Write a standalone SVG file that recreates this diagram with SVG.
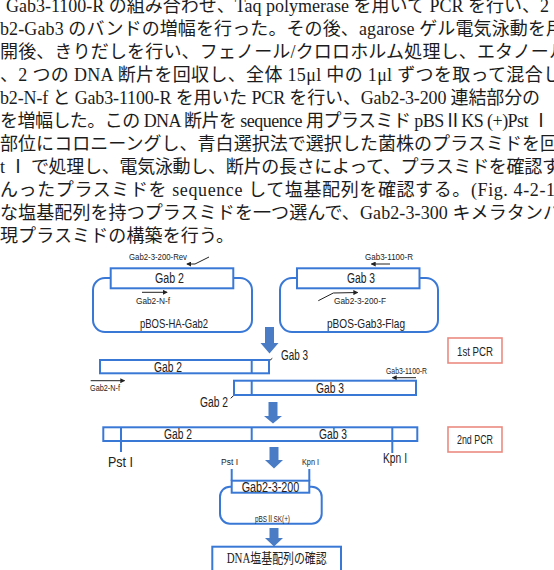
<svg xmlns="http://www.w3.org/2000/svg" width="554" height="570" viewBox="0 0 554 570">
<style>
.body{font-family:"Liberation Serif","Noto Sans CJK JP",serif;font-size:18px;fill:#1c1c1c}
.box{fill:#fff;stroke:#3a78d6;stroke-width:2}
.loop{fill:none;stroke:#3a78d6;stroke-width:2}
.pcr{fill:#fff;stroke:#ea8b80;stroke-width:1.6}
.lbl{font-family:"Liberation Sans","Noto Sans CJK JP",sans-serif;font-size:14px;fill:#222;dominant-baseline:central}
.md{font-size:13px}
.sm{font-size:8.5px}
.dna{font-family:"Liberation Serif","Noto Sans CJK JP",serif;font-size:14px;fill:#222;dominant-baseline:central}
.thin{stroke:#222;stroke-width:1;fill:none}
.big{fill:#4a7cc5}
</style>
<defs>
<marker id="ah" viewBox="0 0 6 6" refX="5" refY="3" markerWidth="5" markerHeight="5" orient="auto" markerUnits="userSpaceOnUse">
<path d="M0,0 L6,3 L0,6 z" fill="#222"/>
</marker>
</defs>

<g id="body-text" class="body">
<text x="6" y="12" textLength="543" lengthAdjust="spacing">Gab3-1100-R の組み合わせ、Taq polymerase を用いて PCR を行い、2</text>
<text x="0" y="35" textLength="564" lengthAdjust="spacing">b2-Gab3 のバンドの増幅を行った。その後、agarose ゲル電気泳動を用</text>
<text x="0" y="58" textLength="567" lengthAdjust="spacing">開後、きりだしを行い、フェノール/クロロホルム処理し、エタノール</text>
<text x="0" y="81" textLength="561" lengthAdjust="spacing">、2 つの DNA 断片を回収し、全体 15μl 中の 1μl ずつを取って混合し</text>
<text x="0" y="104" textLength="540" lengthAdjust="spacing">b2-N-f と Gab3-1100-R を用いた PCR を行い、Gab2-3-200 連結部分の</text>
<text x="0" y="127" textLength="550" lengthAdjust="spacing">を増幅した。この DNA 断片を sequence 用プラスミド pBSⅡKS (+)Pst Ⅰ</text>
<text x="0" y="150" textLength="558" lengthAdjust="spacing">部位にコロニーングし、青白選択法で選択した菌株のプラスミドを回</text>
<text x="0" y="173" textLength="560" lengthAdjust="spacing">t Ⅰ で処理し、電気泳動し、断片の長さによって、プラスミドを確認す</text>
<text x="0" y="196" textLength="555" lengthAdjust="spacing">んったプラスミドを sequence して塩基配列を確認する。(Fig. 4-2-1</text>
<text x="0" y="219" textLength="561" lengthAdjust="spacing">な塩基配列を持つプラスミドを一つ選んで、Gab2-3-300 キメラタンパ</text>
<text x="0" y="242" textLength="234" lengthAdjust="spacing">現プラスミドの構築を行う。</text>
</g>

<g id="connectors">
<polygon class="big" points="265,327 274,327 274,343 278.5,343 269.5,353.5 260.5,343 265,343"/>
<polygon class="big" points="268.5,402 277.5,402 277.5,416 282,416 273,423.5 264,416 268.5,416"/>
<polygon class="big" points="269.5,447 278.5,447 278.5,460 283,460 274,468.5 265,460 269.5,460"/>
<polygon class="big" points="269.5,528 278.5,528 278.5,538 283,538 274,546.5 265,538 269.5,538"/>
<polyline class="thin" points="209,257 195,264 187,264" marker-end="url(#ah)"/>
<line class="thin" x1="142" y1="292.3" x2="167" y2="292.3" marker-end="url(#ah)"/>
<line class="thin" x1="390" y1="264" x2="371.5" y2="264" marker-end="url(#ah)"/>
<polyline class="thin" points="318.3,300.7 333.3,293 357.5,292.5" marker-end="url(#ah)"/>
<line class="thin" x1="262.3" y1="366.7" x2="272.3" y2="358.3"/>
<line class="thin" x1="230.7" y1="398.3" x2="240.3" y2="389.3"/>
<line class="thin" x1="90.7" y1="380.7" x2="124.5" y2="380.7" marker-end="url(#ah)"/>
<line class="thin" x1="416" y1="377.7" x2="392.5" y2="377.7" marker-end="url(#ah)"/>
</g>

<g id="pBOS-HA-Gab2">
<rect class="loop" x="93" y="278" width="159" height="54" rx="12"/>
<rect class="box" x="110.7" y="268.3" width="122.6" height="20"/>
<text class="lbl" x="155" y="278" textLength="29" lengthAdjust="spacingAndGlyphs">Gab 2</text>
<text class="lbl sm" x="129" y="257" textLength="58" lengthAdjust="spacingAndGlyphs">Gab2-3-200-Rev</text>
<text class="lbl sm" x="136" y="301" textLength="34" lengthAdjust="spacingAndGlyphs">Gab2-N-f</text>
<text class="lbl md" x="140" y="323" textLength="68" lengthAdjust="spacingAndGlyphs">pBOS-HA-Gab2</text>
</g>

<g id="pBOS-Gab3-Flag">
<rect class="loop" x="280" y="278" width="158" height="54" rx="12"/>
<rect class="box" x="297" y="268.3" width="122.5" height="20"/>
<text class="lbl" x="347" y="278" textLength="28" lengthAdjust="spacingAndGlyphs">Gab 3</text>
<text class="lbl sm" x="365" y="257" textLength="48" lengthAdjust="spacingAndGlyphs">Gab3-1100-R</text>
<text class="lbl sm" x="334" y="301" textLength="52" lengthAdjust="spacingAndGlyphs">Gab2-3-200-F</text>
<text class="lbl md" x="327" y="323" textLength="78" lengthAdjust="spacingAndGlyphs">pBOS-Gab3-Flag</text>
</g>

<g id="pcr1-gab2">
<rect class="box" x="100" y="360" width="169" height="13.3"/>
<line class="loop" x1="251.7" y1="360" x2="251.7" y2="373.3"/>
<text class="lbl" x="154" y="366.7" textLength="28" lengthAdjust="spacingAndGlyphs">Gab 2</text>
<text class="lbl" x="281" y="355" textLength="27" lengthAdjust="spacingAndGlyphs">Gab 3</text>
<text class="lbl sm" x="90" y="388.3" textLength="30" lengthAdjust="spacingAndGlyphs">Gab2-N-f</text>
</g>

<g id="pcr1-gab3">
<rect class="box" x="234" y="380.7" width="182" height="14.3"/>
<line class="loop" x1="251.7" y1="380.7" x2="251.7" y2="395"/>
<text class="lbl" x="316" y="388" textLength="28" lengthAdjust="spacingAndGlyphs">Gab 3</text>
<text class="lbl" x="200" y="402" textLength="28" lengthAdjust="spacingAndGlyphs">Gab 2</text>
<text class="lbl sm" x="386" y="371" textLength="41" lengthAdjust="spacingAndGlyphs">Gab3-1100-R</text>
</g>

<g id="label-1st-pcr">
<rect class="pcr" x="448" y="338" width="54" height="25"/>
<text class="lbl md" x="457" y="351" textLength="36" lengthAdjust="spacingAndGlyphs">1st PCR</text>
</g>

<g id="pcr2-product">
<rect class="box" x="103.3" y="427.3" width="314" height="13.7"/>
<line class="loop" x1="121" y1="427.3" x2="121" y2="452"/>
<line class="loop" x1="251.7" y1="427.3" x2="251.7" y2="441"/>
<line class="loop" x1="392.3" y1="427.3" x2="392.3" y2="453"/>
<text class="lbl" x="164" y="433.5" textLength="28" lengthAdjust="spacingAndGlyphs">Gab 2</text>
<text class="lbl" x="319" y="433.5" textLength="28" lengthAdjust="spacingAndGlyphs">Gab 3</text>
<text class="lbl" x="108" y="462" textLength="25" lengthAdjust="spacingAndGlyphs">Pst I</text>
<text class="lbl" x="383" y="457.5" textLength="24" lengthAdjust="spacingAndGlyphs">Kpn I</text>
</g>

<g id="label-2nd-pcr">
<rect class="pcr" x="448" y="427" width="54" height="25"/>
<text class="lbl md" x="457" y="439.5" textLength="36" lengthAdjust="spacingAndGlyphs">2nd PCR</text>
</g>

<g id="pBSIISK">
<rect class="loop" x="220" y="486.7" width="101.7" height="37" rx="10"/>
<rect class="box" x="231.7" y="480.7" width="77.6" height="12"/>
<line class="loop" x1="231.7" y1="469" x2="231.7" y2="481"/>
<line class="loop" x1="309.3" y1="469" x2="309.3" y2="481"/>
<text class="lbl" x="241.7" y="487" textLength="57.6" lengthAdjust="spacingAndGlyphs">Gab2-3-200</text>
<text class="lbl sm" x="221" y="462" textLength="17" lengthAdjust="spacingAndGlyphs">Pst I</text>
<text class="lbl sm" x="302" y="462" textLength="17" lengthAdjust="spacingAndGlyphs">Kpn I</text>
<text class="lbl sm" x="255" y="519" textLength="35" lengthAdjust="spacingAndGlyphs">pBSⅡSK(+)</text>
</g>

<g id="dna-confirm">
<rect class="box" x="212.3" y="546.7" width="128.7" height="30"/>
<text class="dna" x="226.7" y="558.5" textLength="100" lengthAdjust="spacingAndGlyphs">DNA塩基配列の確認</text>
</g>
</svg>
